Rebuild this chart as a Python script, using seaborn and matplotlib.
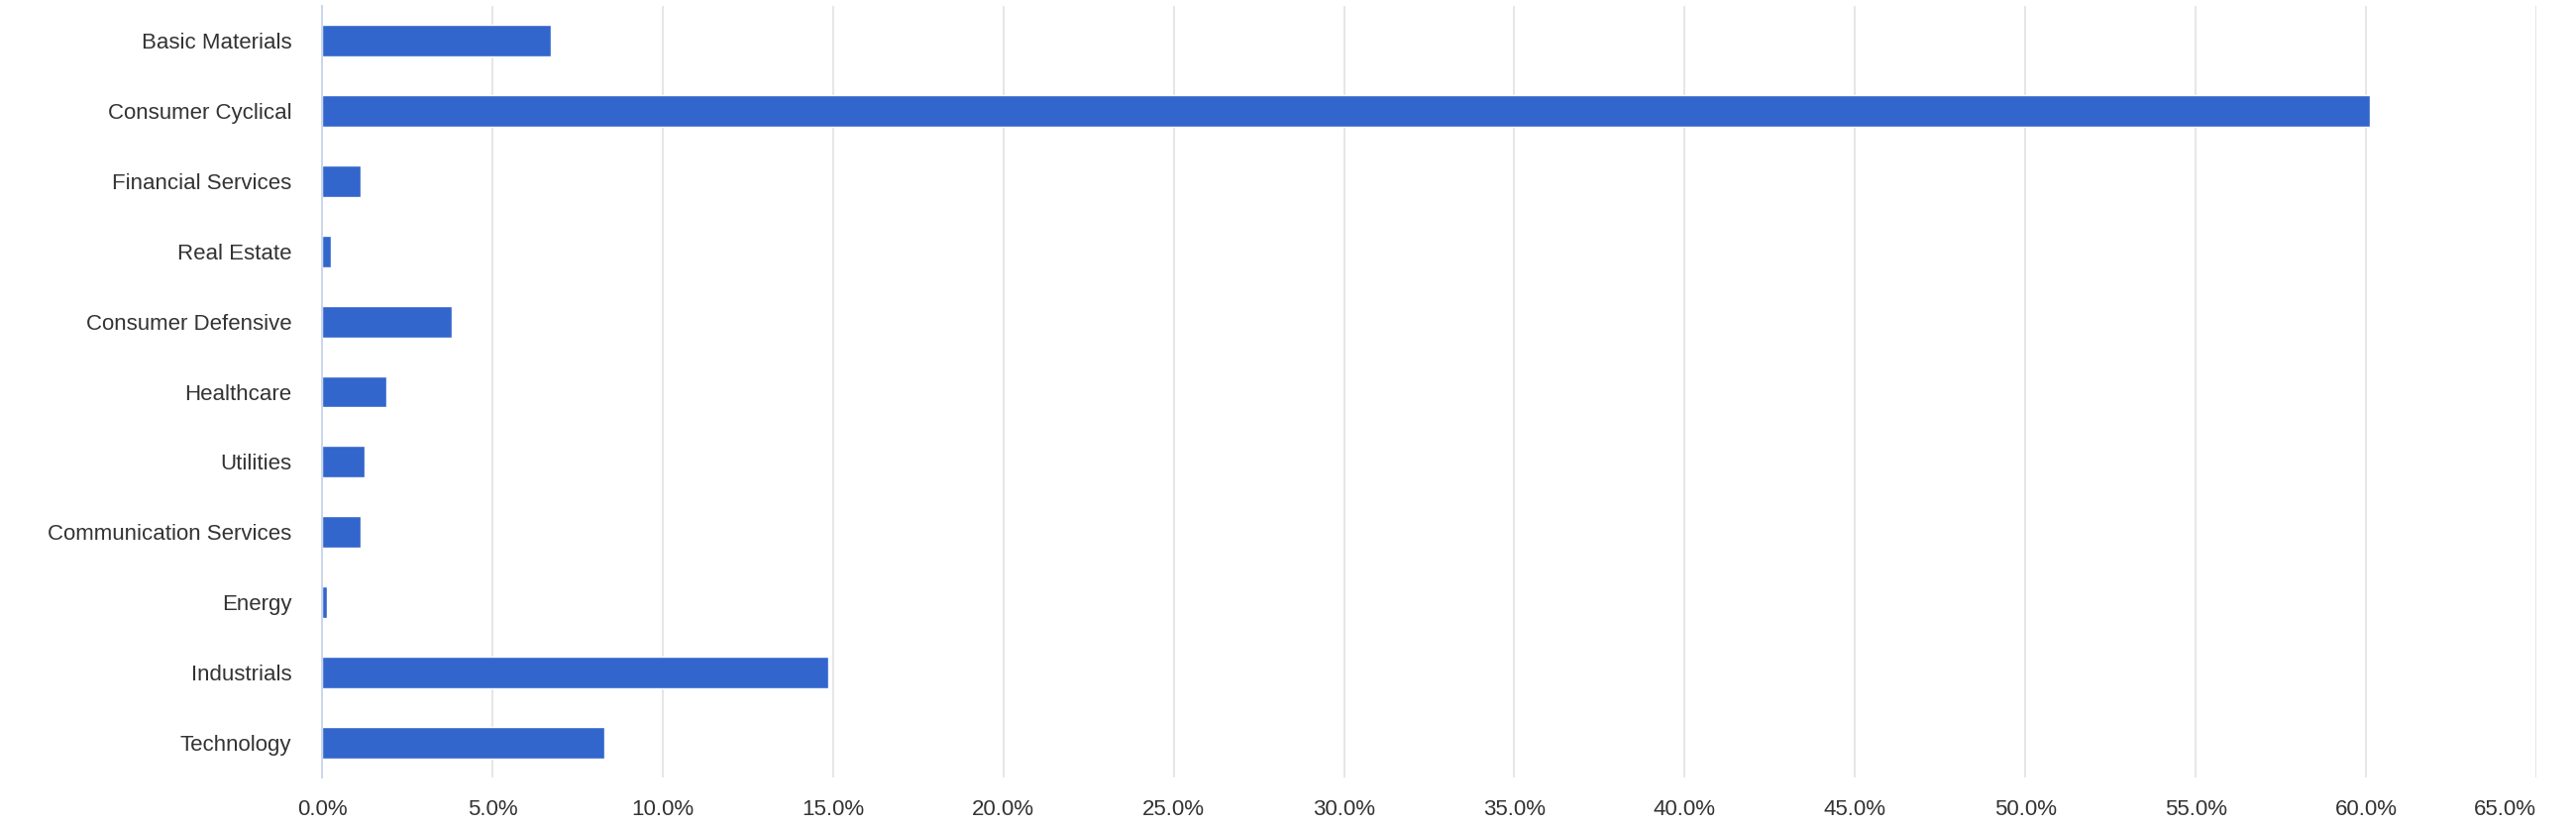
import matplotlib
matplotlib.use("Agg")
import matplotlib.pyplot as plt
import seaborn as sns
import pandas as pd
from matplotlib.ticker import FuncFormatter, MultipleLocator

sectors = [
    "Basic Materials", "Consumer Cyclical", "Financial Services", "Real Estate",
    "Consumer Defensive", "Healthcare", "Utilities", "Communication Services",
    "Energy", "Industrials", "Technology",
]
weights = [6.71, 60.1, 1.13, 0.26, 3.81, 1.90, 1.25, 1.13, 0.15, 14.86, 8.30]
x_ticks = [0, 5, 10, 15, 20, 25, 30, 35, 40, 45, 50, 55, 60, 65]

df = pd.DataFrame({"sector": sectors, "weight": weights})

sns.set_theme(style="white")
plt.rcParams["font.family"] = ["Liberation Sans", "DejaVu Sans"]

fig = plt.figure(figsize=(26, 8.34), dpi=100)
ax = fig.add_axes([325 / 2600, 1 - 785 / 834, (2560 - 325) / 2600, (785 - 6) / 834])

sns.barplot(data=df, x="weight", y="sector", orient="h", color="#3366cc",
            saturation=1, width=0.45, edgecolor="white", linewidth=1, ax=ax, zorder=3)

ax.set_xlim(0, 65)
ax.set_ylim(10.5, -0.5)
ax.set_xticks(x_ticks)
ax.set_xticklabels([f"{v:.1f}%" for v in x_ticks])
ax.grid(axis="x", color="#e6e6e6", linewidth=1.4, zorder=0)
ax.grid(axis="y", visible=False)
ax.set_axisbelow(True)
for s in ["top", "right", "bottom"]:
    ax.spines[s].set_visible(False)
ax.spines["left"].set_color("#ccd6eb")
ax.spines["left"].set_linewidth(1.4)
ax.spines["left"].set_zorder(4)
ax.set_xlabel("")
ax.set_ylabel("")
ax.tick_params(axis="x", length=0, pad=16, labelsize=16, labelcolor="#333333")
ax.tick_params(axis="y", length=0, pad=22, labelsize=16, labelcolor="#333333")

for lbl in ax.get_xticklabels():
    if lbl.get_text() == "65.0%":
        lbl.set_horizontalalignment("right")

fig.savefig("out.png", dpi=100, facecolor="white")
